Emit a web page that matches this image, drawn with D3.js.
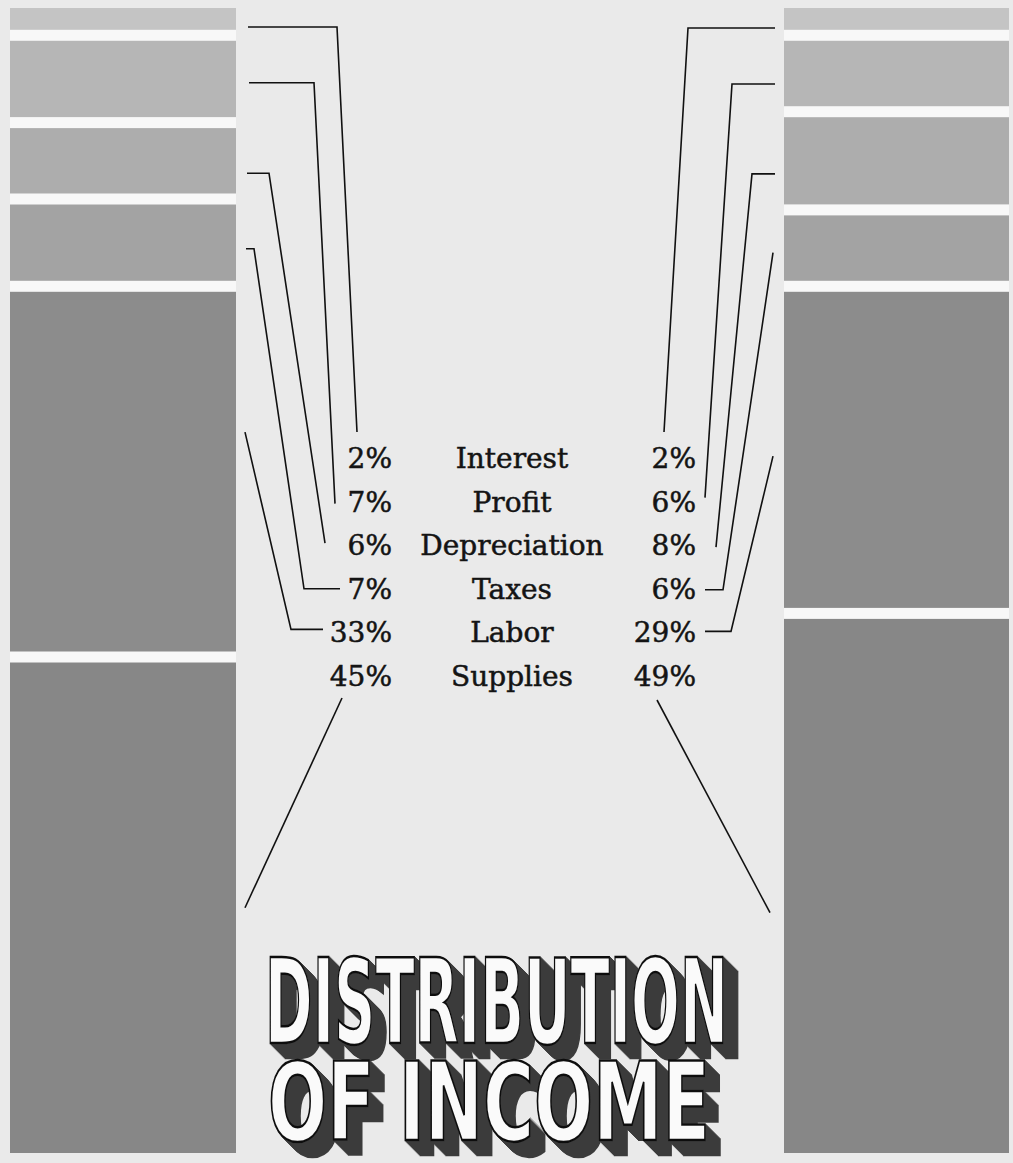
<!DOCTYPE html>
<html><head><meta charset="utf-8">
<script src="https://cdn.jsdelivr.net/npm/d3@7"></script>
<style>html,body{margin:0;padding:0;background:#eaeaea;} svg{display:block;}</style>
</head><body><svg id="chart" width="1013" height="1163"></svg>
<script>
// ---- data ----
const categories = ["Interest", "Profit", "Depreciation", "Taxes", "Labor", "Supplies"];
const leftValues = [2, 7, 6, 7, 33, 45];
const rightValues = [2, 6, 8, 6, 29, 49];
const titleLines = ["Distribution", "of Income"];

// ---- layout / style ----
const W = 1013, H = 1163;
const colTop = 8, colBottom = 1153, gap = 11;
const leftCol = {x0: 10, x1: 236};
const rightCol = {x0: 784, x1: 1009};
const shades = ["#c4c4c4", "#b6b6b6", "#adadad", "#a3a3a3", "#8c8c8c", "#878787"];

const svg = d3.select("#chart");
svg.append("rect").attr("width", W).attr("height", H).attr("fill", "#eaeaea");

// extrusion filter for the title
const defs = svg.append("defs");
const depth = 15;
const f = defs.append("filter").attr("id", "extrude").attr("filterUnits", "userSpaceOnUse")
  .attr("x", 200).attr("y", 900).attr("width", 600).attr("height", 263);
d3.range(1, depth + 1).forEach(i => {
  f.append("feOffset").attr("in", "SourceAlpha").attr("dx", i).attr("dy", i).attr("result", "o" + i);
});
const m1 = f.append("feMerge").attr("result", "ext");
d3.range(1, depth + 1).forEach(i => m1.append("feMergeNode").attr("in", "o" + i));
f.append("feFlood").attr("flood-color", "#3a3a3a").attr("result", "col");
f.append("feComposite").attr("in", "col").attr("in2", "ext").attr("operator", "in").attr("result", "shadow");
const m2 = f.append("feMerge");
m2.append("feMergeNode").attr("in", "shadow");
m2.append("feMergeNode").attr("in", "SourceGraphic");

const yLen = d3.scaleLinear().domain([0, 100]).range([0, (colBottom - colTop) - gap * (categories.length - 1)]);

function segments(values) {
  const cum = [0, ...d3.cumsum(values)];
  return values.map((v, i) => ({
    cat: categories[i], value: v, i,
    y0: colTop + yLen(cum[i]) + gap * i,
    y1: colTop + yLen(cum[i + 1]) + gap * i
  }));
}
const leftSeg = segments(leftValues);
const rightSeg = segments(rightValues);

// column backings (white gaps)
[leftCol, rightCol].forEach(c => {
  svg.append("rect").attr("x", c.x0).attr("y", colTop).attr("width", c.x1 - c.x0)
    .attr("height", colBottom - colTop).attr("fill", "#f8f8f8");
});

function drawBars(seg, c) {
  svg.append("g").selectAll("rect").data(seg).join("rect")
    .attr("x", c.x0).attr("width", c.x1 - c.x0)
    .attr("y", d => d.y0).attr("height", d => d.y1 - d.y0)
    .attr("fill", d => shades[d.i]);
}
drawBars(leftSeg, leftCol);
drawBars(rightSeg, rightCol);

// label rows
const rowY = d3.scalePoint().domain(categories).range([468, 686]);
const font = "'DejaVu Serif', serif";
const tg = svg.append("g").attr("font-family", font).attr("font-size", 28).attr("fill", "#141414")
  .attr("stroke", "#141414").attr("stroke-width", 0.5);
tg.selectAll("text.lp").data(leftValues).join("text").attr("class", "lp")
  .attr("x", 392).attr("y", (d, i) => rowY(categories[i])).attr("text-anchor", "end").text(d => d + "%");
tg.selectAll("text.cat").data(categories).join("text").attr("class", "cat")
  .attr("x", 512).attr("y", d => rowY(d)).attr("text-anchor", "middle").text(d => d);
tg.selectAll("text.rp").data(rightValues).join("text").attr("class", "rp")
  .attr("x", 696).attr("y", (d, i) => rowY(categories[i])).attr("text-anchor", "end").text(d => d + "%");

// leader lines (annotation layout)
const leftLead = [
  {frac: .87, sx: 248, stubX: 337, endX: 357, endDy: -36},
  {frac: .55, sx: 249, stubX: 314, endX: 335, endDy: -8},
  {frac: .69, sx: 247, stubX: 269, endX: 325, endDy: -12},
  {frac: .58, sx: 246, stubX: 254, endX: 304, endDy: -10, tailX: 340},
  {frac: .39, sx: 245, stubX: null, endX: 291, endDy: -13, tailX: 323},
  {frac: .50, sx: 245, stubX: null, endX: 342, endDy: 12}
];
const rightLead = [
  {frac: .92, sx: 775, stubX: 688, endX: 664, endDy: -36},
  {frac: .66, sx: 775, stubX: 732, endX: 705, endDy: -14},
  {frac: .65, sx: 775, stubX: 752, endX: 716, endDy: -8},
  {frac: .57, sx: 773, stubX: null, endX: 723, endDy: -9, tailX: 705},
  {frac: .52, sx: 773, stubX: null, endX: 731, endDy: -11, tailX: 705},
  {frac: .55, sx: 770, stubX: null, endX: 657, endDy: 14}
];
const line = d3.line();
function leaders(seg, lead) {
  svg.append("g").selectAll("path").data(seg).join("path")
    .attr("fill", "none").attr("stroke", "#111").attr("stroke-width", 1.6)
    .attr("stroke-linejoin", "miter")
    .attr("d", d => {
      const L = lead[d.i];
      const ay = d.y0 + (d.y1 - d.y0) * L.frac;
      const ey = rowY(d.cat) + L.endDy;
      const pts = [[L.sx, ay]];
      if (L.stubX != null) pts.push([L.stubX, ay]);
      pts.push([L.endX, ey]);
      if (L.tailX != null) pts.push([L.tailX, ey]);
      return line(pts);
    });
}
leaders(leftSeg, leftLead);
leaders(rightSeg, rightLead);

// title with extruded shadow (single text per line, shadow via filter)
const titleSpec = [
  {x: 265, y: 1043, size: 118, len: 463},
  {x: 268, y: 1140, size: 108, len: 442}
];
const tt = svg.append("g").attr("font-family", "'DejaVu Sans', sans-serif").attr("font-weight", "bold")
  .style("text-transform", "uppercase");
tt.selectAll("text").data(titleLines).join("text")
  .attr("x", (d, k) => titleSpec[k].x).attr("y", (d, k) => titleSpec[k].y)
  .attr("font-size", (d, k) => titleSpec[k].size)
  .attr("textLength", (d, k) => titleSpec[k].len).attr("lengthAdjust", "spacingAndGlyphs")
  .attr("fill", "#fafafa").attr("stroke", "#111").attr("stroke-width", 2.5)
  .attr("filter", "url(#extrude)")
  .text(d => d);
</script></body></html>
